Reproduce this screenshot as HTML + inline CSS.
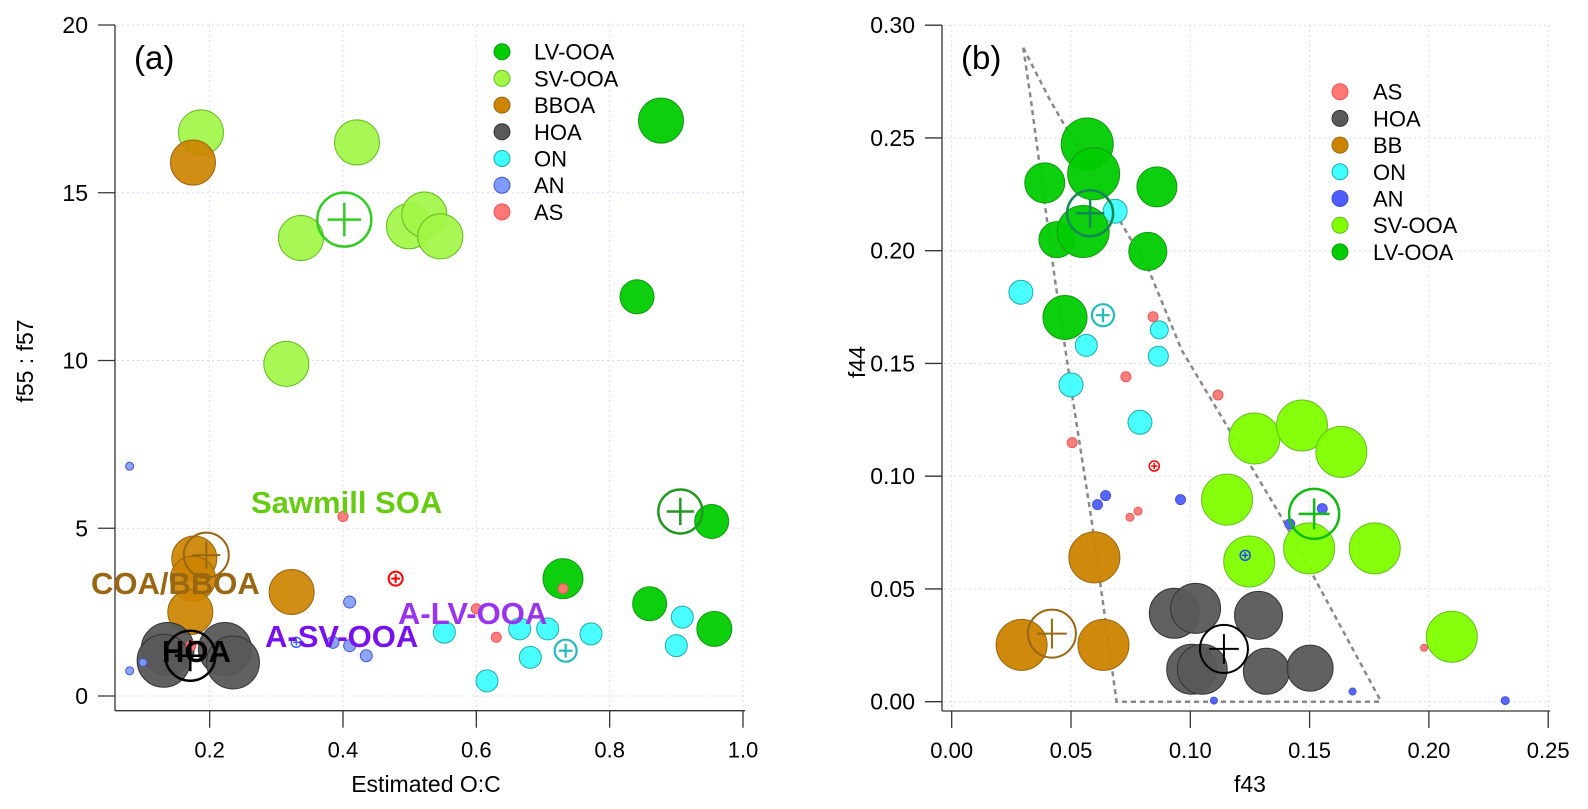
<!DOCTYPE html>
<html><head><meta charset="utf-8"><style>
html,body{margin:0;padding:0;background:#fff;}
svg{display:block;font-family:"Liberation Sans",Arial,sans-serif;}
</style></head><body>
<svg id="fig" width="1588" height="809" viewBox="0 0 1588 809" xmlns="http://www.w3.org/2000/svg">
<g id="pa"></g>
<g id="pb"></g>
</svg>
<script>
// ===== Panel (a) data: Estimated O:C vs f55:f57 =====
const aTicksX = [0.2,0.4,0.6,0.8,1.0];
const aTickLabelsX = ["0.2","0.4","0.6","0.8","1.0"];
const aTicksY = [0,5,10,15,20];
const aTickLabelsY = ["0","5","10","15","20"];
const aSeriesNames = ["LV-OOA","SV-OOA","BBOA","HOA","ON","AN","AS"];

const aSV_x = [0.187,0.421,0.337,0.499,0.522,0.546,0.315];
const aSV_y = [16.8,16.5,13.65,14.0,14.35,13.7,9.9];
const aSV_mean = [0.402,14.2];
const aLV_x = [0.877,0.841,0.953,0.730,0.860,0.957];
const aLV_y = [17.15,11.9,5.2,3.5,2.75,2.0];
const aLV_mean = [0.906,5.5];
const aBB_x = [0.175,0.177,0.175,0.171,0.323];
const aBB_y = [15.9,4.1,3.5,2.5,3.1];
const aBB_mean = [0.195,4.2];
const aHOA_x = [0.137,0.131,0.223,0.235];
const aHOA_y = [1.4,1.05,1.4,1.0];
const aHOA_mean = [0.171,1.2];
const aON_x = [0.552,0.616,0.665,0.681,0.707,0.772,0.909,0.900];
const aON_y = [1.9,0.45,2.0,1.15,2.0,1.85,2.35,1.5];
const aON_mean = [0.734,1.35];
const aAN_x = [0.080,0.080,0.100,0.385,0.410,0.435,0.410];
const aAN_y = [6.85,0.75,1.0,1.6,1.5,1.2,2.8];
const aAN_mean = [0.33,1.6];
const aAS_x = [0.400,0.600,0.630,0.730,0.172];
const aAS_y = [5.35,2.6,1.75,3.2,1.5];
const aAS_mean = [0.479,3.5];

// ===== Panel (b) data: f43 vs f44 =====
const bTicksX = [0,0.05,0.10,0.15,0.20,0.25];
const bTickLabelsX = ["0.00","0.05","0.10","0.15","0.20","0.25"];
const bTicksY = [0,0.05,0.10,0.15,0.20,0.25,0.30];
const bTickLabelsY = ["0.00","0.05","0.10","0.15","0.20","0.25","0.30"];
const bSeriesNames = ["AS","HOA","BB","ON","AN","SV-OOA","LV-OOA"];

const bLV_x = [0.0568,0.0595,0.039,0.086,0.0441,0.0551,0.0822,0.0475];
const bLV_y = [0.2473,0.2341,0.2301,0.2283,0.2049,0.2085,0.1997,0.1704];
const bLV_mean = [0.058,0.2166];
const bSV_x = [0.1269,0.1468,0.1633,0.1154,0.1247,0.1498,0.1773,0.2096];
const bSV_y = [0.1167,0.1225,0.1108,0.0896,0.0622,0.068,0.068,0.0288];
const bSV_mean = [0.1519,0.0833];
const bBB_x = [0.0598,0.0293,0.0636];
const bBB_y = [0.064,0.0252,0.0252];
const bBB_mean = [0.042,0.0302];
const bHOA_x = [0.0933,0.1022,0.1286,0.1006,0.105,0.1319,0.1502];
const bHOA_y = [0.0392,0.0414,0.0383,0.0144,0.0144,0.0135,0.0149];
const bHOA_mean = [0.1141,0.0234];
const bON_x = [0.029,0.0685,0.0564,0.050,0.087,0.0866,0.0789];
const bON_y = [0.1816,0.2175,0.158,0.1405,0.1649,0.1532,0.1239];
const bON_mean = [0.0634,0.1714];
const bAN_x = [0.0611,0.0645,0.0959,0.1417,0.1553,0.168,0.1099,0.232];
const bAN_y = [0.0874,0.0914,0.0896,0.0788,0.0856,0.0045,0.0005,0.0005];
const bAN_mean = [0.123,0.0649];
const bAS_x = [0.0844,0.073,0.0505,0.1116,0.0781,0.0747,0.198];
const bAS_y = [0.1707,0.1441,0.1149,0.136,0.0845,0.0818,0.0239];
const bAS_mean = [0.0849,0.1045];
const bHullLeft_x = [0.030,0.0332,0.0433,0.0508,0.0588,0.0691,0.180];
const bHullLeft_y = [0.290,0.2668,0.187,0.1338,0.0792,0.000,0.000];
const bHullRight_x = [0.030,0.0412,0.0828,0.0965,0.1389,0.180];
const bHullRight_y = [0.290,0.2668,0.1909,0.1557,0.0806,0.000];

// ===== helpers =====
const NS="http://www.w3.org/2000/svg";
function mk(parent,tag,attrs,text){
  const e=document.createElementNS(NS,tag);
  for(const k in attrs) e.setAttribute(k,attrs[k]);
  if(text!==undefined) e.textContent=text;
  parent.appendChild(e); return e;
}
const axA={x:v=>76.3+666.7*v, y:v=>696-33.55*v};
const axB={x:v=>951.7+2386*v, y:v=>701.7-2255*v};

function frame(g,ax,ticksX,labX,ticksY,labY,left,bottom,right,top,prefix){
  const gg=mk(g,'g',{});
  
  
  ticksX.forEach(t=>mk(gg,'line',{x1:ax.x(t),x2:ax.x(t),y1:top,y2:bottom-2,stroke:'#d8d8ff','stroke-width':1,'stroke-dasharray':'2,3'}));
  ticksY.forEach(t=>mk(gg,'line',{x1:left+2,x2:right,y1:ax.y(t),y2:ax.y(t),stroke:'#d8d8ff','stroke-width':1,'stroke-dasharray':'2,3'}));
  const xa=mk(g,'g',{});
  
  
  mk(xa,'line',{x1:left,x2:right,y1:bottom,y2:bottom,stroke:'#333','stroke-width':1.3});
  ticksX.forEach((t,i)=>{
    mk(xa,'line',{x1:ax.x(t),x2:ax.x(t),y1:bottom,y2:bottom+17,stroke:'#333','stroke-width':1.3});
    const tx=mk(xa,'text',{x:ax.x(t),y:bottom+47,'font-size':22,'text-anchor':'middle',fill:'#000'},labX[i]);
    
    
  });
  const ya=mk(g,'g',{});
  
  
  mk(ya,'line',{x1:left,x2:left,y1:top,y2:bottom,stroke:'#333','stroke-width':1.3});
  ticksY.forEach((t,i)=>{
    mk(ya,'line',{x1:left-17,x2:left,y1:ax.y(t),y2:ax.y(t),stroke:'#333','stroke-width':1.3});
    const tx=mk(ya,'text',{x:left-27,y:ax.y(t)+8,'font-size':23,'text-anchor':'end',fill:'#000'},labY[i]);
    
    
  });
}
function series(g,ax,xs,ys,r,fill,stroke,name,op){
  const s=mk(g,'g',{});
  
  
  xs.forEach((x,i)=>{
    const c=mk(s,'circle',{cx:ax.x(x),cy:ax.y(ys[i]),r:Array.isArray(r)?r[i]:r,fill:fill,stroke:stroke,'stroke-width':1,'fill-opacity':op||0.95});
    
    
  });
}
function meanMark(g,ax,m,r,color,name,sw){
  const s=mk(g,'g',{});
  
  
  const cx=ax.x(m[0]),cy=ax.y(m[1]);
  mk(s,'circle',{cx:cx,cy:cy,r:r,fill:'none',stroke:color,'stroke-width':sw||2.5});
  const p=r*0.62;
  mk(s,'line',{x1:cx-p,x2:cx+p,y1:cy,y2:cy,stroke:color,'stroke-width':sw||2.5});
  mk(s,'line',{x1:cx,x2:cx,y1:cy-p,y2:cy+p,stroke:color,'stroke-width':sw||2.5});
}
function legend(g,names,fills,strokes,dx,tx,y0,prefix){
  const L=mk(g,'g',{});
  
  
  names.forEach((n,i)=>{
    const e=mk(L,'g',{});
    
    
    const y=y0+i*26.7;
    mk(e,'circle',{cx:dx,cy:y,r:8,fill:fills[i],stroke:strokes[i],'stroke-width':1});
    mk(e,'text',{x:tx,y:y+8,'font-size':22,fill:'#000'},n);
  });
}
function label(g,x,y,txt,color,size,name,bold,anchor){
  const t=mk(g,'text',{x:x,y:y,'font-size':size,fill:color,'font-weight':bold?'bold':'normal','text-anchor':anchor||'start'},txt);
  
  
  return t;
}

const C={LV:'#00cc00',LVs:'#119911',SVa:'#a2f645',SVb:'#80ff00',SVs:'#66bb22',BB:'#cc8400',BBs:'#996611',HOA:'#595959',HOAs:'#333',ON:'#40ffff',ONs:'#22aaaa',ANa:'#7f9bff',ANb:'#4f5dff',ANs:'#4455cc',AS:'#ff7777',ASs:'#ee5555'};

// ===== Panel (a) =====
const A=document.getElementById('pa');
frame(A,axA,aTicksX,aTickLabelsX,aTicksY,aTickLabelsY,115,710.7,745,25,'panel-a');
series(A,axA,aSV_x,aSV_y,22.5,C.SVa,C.SVs,'sv-ooa-series-a',0.92);
series(A,axA,aBB_x,aBB_y,22.5,C.BB,C.BBs,'bboa-series-a',0.92);
series(A,axA,aHOA_x,aHOA_y,26.5,C.HOA,C.HOAs,'hoa-series-a',0.95);
series(A,axA,aLV_x,aLV_y,[22.5,17,17,20,17,17.5],C.LV,C.LVs,'lv-ooa-series-a');
series(A,axA,aON_x,aON_y,11,C.ON,C.ONs,'on-series-a');
series(A,axA,aAN_x,aAN_y,[4,4,4,6,6,6,6],C.ANa,C.ANs,'an-series-a',0.9);
series(A,axA,aAS_x,aAS_y,5,C.AS,C.ASs,'as-series-a');
meanMark(A,axA,aSV_mean,27,'#33cc22','sv-ooa-mean-a');
meanMark(A,axA,aLV_mean,22,'#229922','lv-ooa-mean-a');
meanMark(A,axA,aBB_mean,22.5,'#996611','bboa-mean-a',2);
meanMark(A,axA,aHOA_mean,25,'#000','hoa-mean-a');
meanMark(A,axA,aON_mean,11,'#22bbbb','on-mean-a',2.2);
meanMark(A,axA,aAN_mean,5,'#3366ff','an-mean-a',1.5);
meanMark(A,axA,aAS_mean,7,'#ff0000','as-mean-a',2);
label(A,251,513,'Sawmill SOA','#66cc11',31,'sawmill-soa-label',true);
label(A,91,594,'COA/BBOA','#996611',31,'coa-bboa-label',true);
label(A,162,662,'HOA','#000',31,'hoa-label',true);
label(A,265,647,'A-SV-OOA','#7711ee',31,'a-sv-ooa-label',true);
label(A,398,624,'A-LV-OOA','#9933ee',31,'a-lv-ooa-label',true);
label(A,134,69,'(a)','#000',33,'panel-a-tag');
legend(A,aSeriesNames,[C.LV,C.SVa,C.BB,C.HOA,C.ON,C.ANa,C.AS],[C.LVs,C.SVs,C.BBs,C.HOAs,C.ONs,C.ANs,C.ASs],502,534,51.7,'panel-a');
label(A,426,792,'Estimated O:C','#000',23,'x-axis-title-a',false,'middle');
const at2=label(A,0,0,'f55 : f57','#000',23,'y-axis-title-a',false,'middle');
at2.setAttribute('transform','translate(33,361) rotate(-90)');

// ===== Panel (b) =====
const B=document.getElementById('pb');
frame(B,axB,bTicksX,bTickLabelsX,bTicksY,bTickLabelsY,942,711,1550,25,'panel-b');
function hull(xs,ys,name){
  const p=mk(B,'polyline',{points:xs.map((x,i)=>axB.x(x)+','+axB.y(ys[i])).join(' '),fill:'none',stroke:'#888','stroke-width':2.5,'stroke-dasharray':'5,4'});
  
  
}
hull(bHullLeft_x,bHullLeft_y,'triangle-left-boundary');
hull(bHullRight_x,bHullRight_y,'triangle-right-boundary');
series(B,axB,bSV_x,bSV_y,25.5,C.SVb,C.SVs,'sv-ooa-series-b',0.95);
series(B,axB,bBB_x,bBB_y,25.5,C.BB,C.BBs,'bb-series-b');
series(B,axB,bHOA_x,bHOA_y,[25,25,24,25,25,23,23],C.HOA,C.HOAs,'hoa-series-b');
series(B,axB,bON_x,bON_y,[12,12,11,12,9,10,12],C.ON,C.ONs,'on-series-b');
series(B,axB,bLV_x,bLV_y,[26,26,20,20,18,26,19,22],C.LV,C.LVs,'lv-ooa-series-b');
series(B,axB,bAN_x,bAN_y,[5,5,5,5,5,3.5,3.5,4],C.ANb,C.ANs,'an-series-b');
series(B,axB,bAS_x,bAS_y,[5,5,5,5,4,4,3.5],C.AS,C.ASs,'as-series-b');
meanMark(B,axB,bLV_mean,23,'#118855','lv-ooa-mean-b');
meanMark(B,axB,bSV_mean,25,'#11bb11','sv-ooa-mean-b');
meanMark(B,axB,bBB_mean,24,'#996611','bb-mean-b',2);
meanMark(B,axB,bHOA_mean,24,'#000','hoa-mean-b',2);
meanMark(B,axB,bON_mean,11,'#22bbbb','on-mean-b',2.2);
meanMark(B,axB,bAN_mean,5,'#2244ff','an-mean-b',1.5);
meanMark(B,axB,bAS_mean,5,'#ff0000','as-mean-b',1.5);
label(B,961,69,'(b)','#000',33,'panel-b-tag');
legend(B,bSeriesNames,[C.AS,C.HOA,C.BB,C.ON,C.ANb,C.SVb,C.LV],[C.ASs,C.HOAs,C.BBs,C.ONs,C.ANs,C.SVs,C.LVs],1340,1373,91.7,'panel-b');
label(B,1250,792,'f43','#000',23,'x-axis-title-b',false,'middle');
const bt2=label(B,0,0,'f44','#000',23,'y-axis-title-b',false,'middle');
bt2.setAttribute('transform','translate(865,362) rotate(-90)');
</script>
</body></html>
